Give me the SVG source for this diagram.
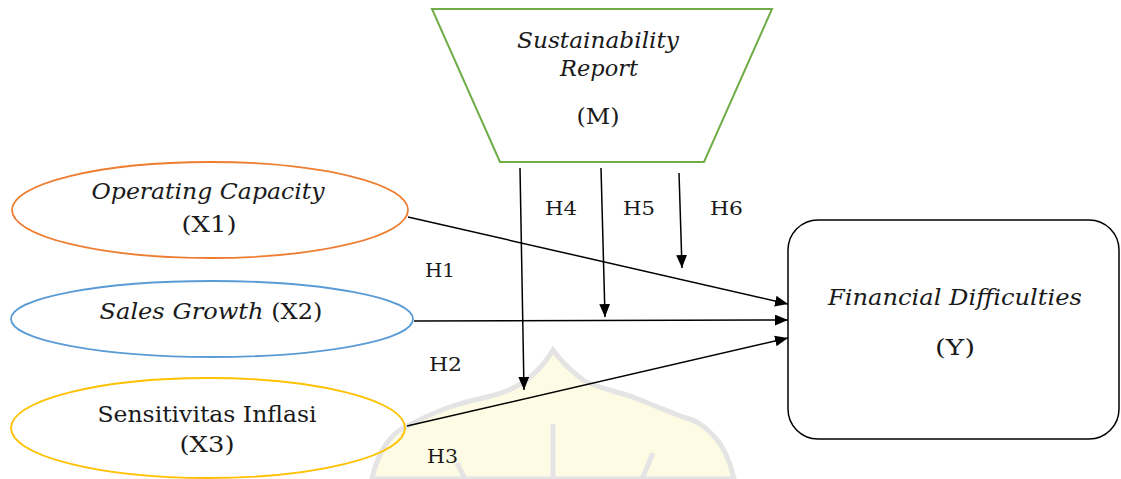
<svg xmlns="http://www.w3.org/2000/svg" width="1121" height="479" viewBox="0 0 1121 479">
<style>
.t{font-family:"DejaVu Serif","Liberation Serif",serif;fill:#1a1a1a;text-anchor:middle;font-size:22px}
.i{font-style:italic}
.h{font-family:"DejaVu Serif","Liberation Serif",serif;fill:#1a1a1a;font-size:19px}
.c{stroke:#000;stroke-width:1.5;fill:none}
</style>
<defs>
<marker id="ah" viewBox="0 0 12 10" refX="12" refY="5" markerWidth="13" markerHeight="11" markerUnits="userSpaceOnUse" orient="auto">
<path d="M0,0 L12,5 L0,10 Z" fill="#000"/>
</marker>
</defs>
<rect width="1121" height="479" fill="#fff"/>
<g id="watermark">
<path d="M553,350 C540,372 520,390 487,397 C460,403 440,408 400,430 C385,440 376,460 372,479 L734,479 C730,460 722,445 717,440 C705,425 695,420 683,417 C660,408 645,402 633,397 C610,390 590,385 583,380 C570,370 560,360 553,350 Z" fill="#fdfbe4" stroke="#e4e4e4" stroke-width="5"/>
<line x1="553" y1="424" x2="553" y2="479" stroke="#e4e4e4" stroke-width="5"/>
<line x1="653" y1="453" x2="642" y2="479" stroke="#e4e4e4" stroke-width="5"/>
<line x1="457" y1="463" x2="465" y2="479" stroke="#e4e4e4" stroke-width="5"/>
</g>
<g id="node-M">
<polygon points="432,9 772,9 704,162 500,162" fill="#fff" stroke="#70ad47" stroke-width="2"/>
<text class="t i" x="598" y="48" textLength="162" lengthAdjust="spacingAndGlyphs">Sustainability</text>
<text class="t i" x="599" y="76" textLength="78" lengthAdjust="spacingAndGlyphs">Report</text>
<text class="t" x="598" y="124" textLength="43" lengthAdjust="spacingAndGlyphs">(M)</text>
</g>
<g id="node-X1">
<ellipse cx="210" cy="210" rx="198" ry="48" fill="none" stroke="#ed7d31" stroke-width="1.8"/>
<text class="t i" x="208" y="199" textLength="233" lengthAdjust="spacingAndGlyphs">Operating Capacity</text>
<text class="t" x="209" y="232" textLength="55" lengthAdjust="spacingAndGlyphs">(X1)</text>
</g>
<g id="node-X2">
<ellipse cx="212" cy="319" rx="201" ry="38" fill="none" stroke="#5b9bd5" stroke-width="1.8"/>
<text class="t" x="211" y="319" textLength="223" lengthAdjust="spacingAndGlyphs"><tspan class="i">Sales Growth</tspan> (X2)</text>
</g>
<g id="node-X3">
<ellipse cx="208" cy="428" rx="197" ry="50" fill="none" stroke="#ffc000" stroke-width="1.8"/>
<text class="t" x="207" y="422" textLength="219" lengthAdjust="spacingAndGlyphs">Sensitivitas Inflasi</text>
<text class="t" x="207" y="452" textLength="55" lengthAdjust="spacingAndGlyphs">(X3)</text>
</g>
<g id="node-Y">
<rect x="788" y="220" width="331" height="219" rx="30" ry="30" fill="#fff" stroke="#000" stroke-width="1.5"/>
<text class="t i" x="955" y="305" textLength="254" lengthAdjust="spacingAndGlyphs">Financial Difficulties</text>
<text class="t" x="955" y="355" textLength="40" lengthAdjust="spacingAndGlyphs">(Y)</text>
</g>
<g id="connectors">
<line class="c" x1="408" y1="217" x2="788" y2="304" marker-end="url(#ah)"/>
<line class="c" x1="414" y1="321" x2="788" y2="320" marker-end="url(#ah)"/>
<line class="c" x1="407" y1="426" x2="788" y2="338" marker-end="url(#ah)"/>
<line class="c" x1="520" y1="168" x2="524" y2="390" marker-end="url(#ah)"/>
<line class="c" x1="601" y1="168" x2="605" y2="317" marker-end="url(#ah)"/>
<line class="c" x1="679" y1="173" x2="682" y2="268" marker-end="url(#ah)"/>
</g>
<g id="labels">
<text class="h" x="545" y="215" textLength="32" lengthAdjust="spacingAndGlyphs">H4</text>
<text class="h" x="623" y="215" textLength="32" lengthAdjust="spacingAndGlyphs">H5</text>
<text class="h" x="710" y="215" textLength="33" lengthAdjust="spacingAndGlyphs">H6</text>
<text class="h" x="425" y="277" textLength="30" lengthAdjust="spacingAndGlyphs">H1</text>
<text class="h" x="429" y="371" textLength="33" lengthAdjust="spacingAndGlyphs">H2</text>
<text class="h" x="427" y="463" textLength="31" lengthAdjust="spacingAndGlyphs">H3</text>
</g>
</svg>
